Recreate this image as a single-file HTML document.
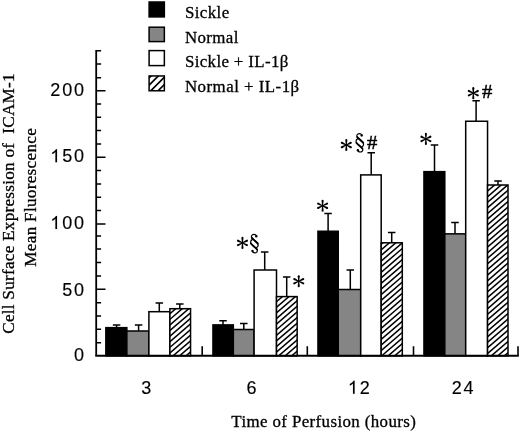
<!DOCTYPE html>
<html><head><meta charset="utf-8"><title>chart</title>
<style>
html,body{margin:0;padding:0;background:#fff;}
body{width:520px;height:431px;overflow:hidden;}
svg{display:block;will-change:transform;transform:translateZ(0);filter:blur(0.3px);}
text{fill:#000;}
.ser{font-family:"Liberation Serif",serif;font-size:16.9px;stroke:#000;stroke-width:0.3px;}
.rot{font-family:"Liberation Serif",serif;font-size:17.2px;stroke:#000;stroke-width:0.3px;}
.san{font-family:"Liberation Sans",sans-serif;font-size:18px;stroke:#000;stroke-width:0.15px;}
.sym{font-family:"Liberation Serif",serif;stroke:#000;stroke-width:0.45px;}
</style></head><body>
<svg width="520" height="431" viewBox="0 0 520 431">
<defs>
<g id="sec">
<g id="sech">
<path d="M2.0 -7.2C1.9 -8.6 0.8 -9.2 -0.4 -9.2C-2.0 -9.2 -3.1 -8.1 -3.0 -6.8C-2.9 -5.6 -1.9 -4.8 0.3 -3.0C2.3 -1.3 3.8 -0.1 3.8 1.4C3.8 2.7 3.0 3.7 1.9 4.2" fill="none" stroke="#000" stroke-width="1.2" stroke-linecap="round"/>
<path d="M-2.6 -5.7C-1.8 -4.8 -0.6 -3.8 0.3 -3.0C1.4 -2.0 2.6 -1.1 3.3 -0.2" fill="none" stroke="#000" stroke-width="1.85" stroke-linecap="round"/>
<circle cx="1.9" cy="-7.4" r="1.2" fill="#000"/>
</g>
<use href="#sech" transform="rotate(180)"/>
</g>
<g id="ast">
<path id="arm" d="M-0.42 0.2 L-1.05 -5.0 A1.05 1.05 0 0 1 1.05 -5.0 L0.42 0.2 Z" fill="#000"/>
<use href="#arm" transform="rotate(64)"/>
<use href="#arm" transform="rotate(116)"/>
<use href="#arm" transform="rotate(180)"/>
<use href="#arm" transform="rotate(244)"/>
<use href="#arm" transform="rotate(296)"/>
<circle r="1.0" fill="#000"/>
</g>
</defs>
<rect width="520" height="431" fill="#fff"/>

<rect x="149.1" y="2.0" width="15.25" height="14.90" fill="#000" stroke="#000" stroke-width="1.5"/>
<rect x="149.1" y="27.2" width="15.25" height="14.40" fill="#858585" stroke="#000" stroke-width="1.5"/>
<rect x="149.1" y="50.6" width="15.25" height="15.00" fill="#fff" stroke="#000" stroke-width="1.5"/>
<clipPath id="c1"><rect x="149.10" y="75.95" width="15.25" height="14.80"/></clipPath>
<rect x="149.10" y="75.95" width="15.25" height="14.80" fill="#fff"/>
<path clip-path="url(#c1)" d="M147.10 79.85L166.35 60.60M147.10 87.15L166.35 67.90M147.10 94.45L166.35 75.20M147.10 101.75L166.35 82.50M147.10 109.05L166.35 89.80" stroke="#000" stroke-width="1.7" fill="none"/>
<rect x="149.10" y="75.95" width="15.25" height="14.80" fill="none" stroke="#000" stroke-width="1.5"/>
<text class="ser" x="184.9" y="18.0" textLength="44.3" lengthAdjust="spacing">Sickle</text>
<text class="ser" x="184.9" y="43.25" textLength="53.5" lengthAdjust="spacing">Normal</text>
<text class="ser" x="184.9" y="66.85" textLength="103.5" lengthAdjust="spacing">Sickle + IL-1β</text>
<text class="ser" x="184.9" y="91.55" textLength="114.3" lengthAdjust="spacing">Normal + IL-1β</text>
<path d="M116.60 327.65V325.00M112.85 325.00H120.35" stroke="#000" stroke-width="1.5" fill="none"/>
<rect x="105.85" y="327.65" width="21.00" height="28.15" fill="#000" stroke="#000" stroke-width="1.5"/>
<path d="M138.60 331.00V325.00M134.85 325.00H142.35" stroke="#000" stroke-width="1.5" fill="none"/>
<rect x="126.85" y="331.00" width="22.05" height="24.80" fill="#858585" stroke="#000" stroke-width="1.5"/>
<path d="M159.30 311.70V303.00M155.55 303.00H163.05" stroke="#000" stroke-width="1.5" fill="none"/>
<rect x="148.90" y="311.70" width="21.00" height="44.10" fill="#fff" stroke="#000" stroke-width="1.5"/>
<path d="M179.80 308.70V304.00M176.05 304.00H183.55" stroke="#000" stroke-width="1.5" fill="none"/>
<clipPath id="c2"><rect x="169.90" y="308.70" width="20.65" height="47.10"/></clipPath>
<rect x="169.90" y="308.70" width="20.65" height="47.10" fill="#fff"/>
<path clip-path="url(#c2)" d="M167.90 309.87L192.55 288.67M167.90 315.47L192.55 294.27M167.90 321.07L192.55 299.87M167.90 326.67L192.55 305.47M167.90 332.27L192.55 311.07M167.90 337.87L192.55 316.67M167.90 343.47L192.55 322.27M167.90 349.07L192.55 327.87M167.90 354.67L192.55 333.47M167.90 360.27L192.55 339.07M167.90 365.87L192.55 344.67M167.90 371.47L192.55 350.27M167.90 377.07L192.55 355.87" stroke="#000" stroke-width="1.5" fill="none"/>
<rect x="169.90" y="308.70" width="20.65" height="47.10" fill="none" stroke="#000" stroke-width="1.5"/>
<path d="M223.00 324.90V320.70M219.25 320.70H226.75" stroke="#000" stroke-width="1.5" fill="none"/>
<rect x="212.95" y="324.90" width="20.40" height="30.90" fill="#000" stroke="#000" stroke-width="1.5"/>
<path d="M243.80 329.50V323.60M240.05 323.60H247.55" stroke="#000" stroke-width="1.5" fill="none"/>
<rect x="233.35" y="329.50" width="20.75" height="26.30" fill="#858585" stroke="#000" stroke-width="1.5"/>
<path d="M264.70 270.00V252.00M260.95 252.00H268.45" stroke="#000" stroke-width="1.5" fill="none"/>
<rect x="254.10" y="270.00" width="22.40" height="85.80" fill="#fff" stroke="#000" stroke-width="1.5"/>
<path d="M286.70 296.60V277.10M282.95 277.10H290.45" stroke="#000" stroke-width="1.5" fill="none"/>
<clipPath id="c3"><rect x="276.50" y="296.60" width="20.65" height="59.20"/></clipPath>
<rect x="276.50" y="296.60" width="20.65" height="59.20" fill="#fff"/>
<path clip-path="url(#c3)" d="M274.50 297.82L299.15 276.62M274.50 303.42L299.15 282.22M274.50 309.02L299.15 287.82M274.50 314.62L299.15 293.42M274.50 320.22L299.15 299.02M274.50 325.82L299.15 304.62M274.50 331.42L299.15 310.22M274.50 337.02L299.15 315.82M274.50 342.62L299.15 321.42M274.50 348.22L299.15 327.02M274.50 353.82L299.15 332.62M274.50 359.42L299.15 338.22M274.50 365.02L299.15 343.82M274.50 370.62L299.15 349.42M274.50 376.22L299.15 355.02" stroke="#000" stroke-width="1.5" fill="none"/>
<rect x="276.50" y="296.60" width="20.65" height="59.20" fill="none" stroke="#000" stroke-width="1.5"/>
<path d="M328.10 231.25V213.55M324.35 213.55H331.85" stroke="#000" stroke-width="1.5" fill="none"/>
<rect x="317.95" y="231.25" width="20.30" height="124.55" fill="#000" stroke="#000" stroke-width="1.5"/>
<path d="M350.30 289.50V269.90M346.55 269.90H354.05" stroke="#000" stroke-width="1.5" fill="none"/>
<rect x="338.25" y="289.50" width="22.45" height="66.30" fill="#858585" stroke="#000" stroke-width="1.5"/>
<path d="M371.20 174.90V152.70M367.45 152.70H374.95" stroke="#000" stroke-width="1.5" fill="none"/>
<rect x="360.70" y="174.90" width="20.50" height="180.90" fill="#fff" stroke="#000" stroke-width="1.5"/>
<path d="M391.70 242.80V232.50M387.95 232.50H395.45" stroke="#000" stroke-width="1.5" fill="none"/>
<clipPath id="c4"><rect x="381.20" y="242.80" width="21.10" height="113.00"/></clipPath>
<rect x="381.20" y="242.80" width="21.10" height="113.00" fill="#fff"/>
<path clip-path="url(#c4)" d="M379.20 245.94L404.30 224.35M379.20 251.54L404.30 229.95M379.20 257.14L404.30 235.55M379.20 262.74L404.30 241.15M379.20 268.34L404.30 246.75M379.20 273.94L404.30 252.35M379.20 279.54L404.30 257.95M379.20 285.14L404.30 263.55M379.20 290.74L404.30 269.15M379.20 296.34L404.30 274.75M379.20 301.94L404.30 280.35M379.20 307.54L404.30 285.95M379.20 313.14L404.30 291.55M379.20 318.74L404.30 297.15M379.20 324.34L404.30 302.75M379.20 329.94L404.30 308.35M379.20 335.54L404.30 313.95M379.20 341.14L404.30 319.55M379.20 346.74L404.30 325.15M379.20 352.34L404.30 330.75M379.20 357.94L404.30 336.35M379.20 363.54L404.30 341.95M379.20 369.14L404.30 347.55M379.20 374.74L404.30 353.15" stroke="#000" stroke-width="1.5" fill="none"/>
<rect x="381.20" y="242.80" width="21.10" height="113.00" fill="none" stroke="#000" stroke-width="1.5"/>
<path d="M434.50 171.65V145.10M430.75 145.10H438.25" stroke="#000" stroke-width="1.5" fill="none"/>
<rect x="423.95" y="171.65" width="20.85" height="184.15" fill="#000" stroke="#000" stroke-width="1.5"/>
<path d="M455.00 233.85V222.45M451.25 222.45H458.75" stroke="#000" stroke-width="1.5" fill="none"/>
<rect x="444.80" y="233.85" width="20.90" height="121.95" fill="#858585" stroke="#000" stroke-width="1.5"/>
<path d="M476.10 121.25V100.80M472.35 100.80H479.85" stroke="#000" stroke-width="1.5" fill="none"/>
<rect x="465.70" y="121.25" width="21.85" height="234.55" fill="#fff" stroke="#000" stroke-width="1.5"/>
<path d="M498.00 185.00V181.10M494.25 181.10H501.75" stroke="#000" stroke-width="1.5" fill="none"/>
<clipPath id="c5"><rect x="487.55" y="185.00" width="20.45" height="170.80"/></clipPath>
<rect x="487.55" y="185.00" width="20.45" height="170.80" fill="#fff"/>
<path clip-path="url(#c5)" d="M485.55 187.19L510.00 166.17M485.55 192.79L510.00 171.77M485.55 198.39L510.00 177.37M485.55 203.99L510.00 182.97M485.55 209.59L510.00 188.57M485.55 215.19L510.00 194.17M485.55 220.79L510.00 199.77M485.55 226.39L510.00 205.37M485.55 231.99L510.00 210.97M485.55 237.59L510.00 216.57M485.55 243.19L510.00 222.17M485.55 248.79L510.00 227.77M485.55 254.39L510.00 233.37M485.55 259.99L510.00 238.97M485.55 265.59L510.00 244.57M485.55 271.19L510.00 250.17M485.55 276.79L510.00 255.77M485.55 282.39L510.00 261.37M485.55 287.99L510.00 266.97M485.55 293.59L510.00 272.57M485.55 299.19L510.00 278.17M485.55 304.79L510.00 283.77M485.55 310.39L510.00 289.37M485.55 315.99L510.00 294.97M485.55 321.59L510.00 300.57M485.55 327.19L510.00 306.17M485.55 332.79L510.00 311.77M485.55 338.39L510.00 317.37M485.55 343.99L510.00 322.97M485.55 349.59L510.00 328.57M485.55 355.19L510.00 334.17M485.55 360.79L510.00 339.77M485.55 366.39L510.00 345.37M485.55 371.99L510.00 350.97M485.55 377.59L510.00 356.57" stroke="#000" stroke-width="1.5" fill="none"/>
<rect x="487.55" y="185.00" width="20.45" height="170.80" fill="none" stroke="#000" stroke-width="1.5"/>
<path d="M96.2 49.9V355.8" stroke="#000" stroke-width="1.8" fill="none"/>
<path d="M95.3 355.8H518.8" stroke="#000" stroke-width="1.9" fill="none"/>
<path d="M96.2 50.65H101.1M96.2 64.00H101.1M96.2 77.70H101.1M96.2 90.70H105.5M96.2 103.95H101.1M96.2 117.30H101.1M96.2 130.55H101.1M96.2 143.90H101.1M96.2 157.30H105.5M96.2 170.55H101.1M96.2 184.00H101.1M96.2 197.30H101.1M96.2 210.55H101.1M96.2 224.00H105.5M96.2 235.90H101.1M96.2 249.00H101.1M96.2 262.60H101.1M96.2 275.90H101.1M96.2 289.25H105.5M96.2 302.65H101.1M96.2 315.90H101.1M96.2 329.30H101.1M96.2 342.75H101.1" stroke="#000" stroke-width="1.5" fill="none"/>
<path d="M202.2 355.8V346.3M307.3 355.8V346.3M413.5 355.8V346.3M518.0 355.8V346.3" stroke="#000" stroke-width="1.6" fill="none"/>
<text class="san" x="50.30" y="95.75">2</text><text class="san" x="62.21" y="95.75">0</text><text class="san" x="74.12" y="95.75">0</text>
<path d="M763 0H583V-1147Q518 -1085 412.5 -1023Q307 -961 223 -930V-1104Q374 -1175 487 -1276Q600 -1377 647 -1472H763Z" transform="translate(50.30 162.15) scale(0.008789)" fill="#000" stroke="#000" stroke-width="17.1"/><text class="san" x="62.21" y="162.15">5</text><text class="san" x="74.12" y="162.15">0</text>
<path d="M763 0H583V-1147Q518 -1085 412.5 -1023Q307 -961 223 -930V-1104Q374 -1175 487 -1276Q600 -1377 647 -1472H763Z" transform="translate(50.30 228.9) scale(0.008789)" fill="#000" stroke="#000" stroke-width="17.1"/><text class="san" x="62.21" y="228.9">0</text><text class="san" x="74.12" y="228.9">0</text>
<text class="san" x="62.20" y="295.75">5</text><text class="san" x="74.11" y="295.75">0</text>
<text class="san" x="74.10" y="361.0">0</text>
<text class="san" x="141.20" y="393.7">3</text>
<text class="san" x="246.50" y="393.7">6</text>
<path d="M763 0H583V-1147Q518 -1085 412.5 -1023Q307 -961 223 -930V-1104Q374 -1175 487 -1276Q600 -1377 647 -1472H763Z" transform="translate(347.90 393.7) scale(0.008789)" fill="#000" stroke="#000" stroke-width="17.1"/><text class="san" x="359.81" y="393.7">2</text>
<text class="san" x="451.70" y="393.7">2</text><text class="san" x="463.61" y="393.7">4</text>
<text class="ser" x="231.3" y="427.3" textLength="184.5" lengthAdjust="spacing">Time of Perfusion (hours)</text>
<text class="rot" transform="translate(13.5 333.8) rotate(-90)" xml:space="preserve" textLength="260.5" lengthAdjust="spacing">Cell Surface Expression of  ICAM-1</text>
<text class="rot" transform="translate(35.7 266.7) rotate(-90)" textLength="138.5" lengthAdjust="spacing">Mean Fluorescence</text>
<use href="#ast" transform="translate(242.45 242.9)"/>
<use href="#ast" transform="translate(298.75 281.2)"/>
<use href="#ast" transform="translate(322.6 205.8)"/>
<use href="#ast" transform="translate(346.3 145.0)"/>
<use href="#ast" transform="translate(425.9 138.9)"/>
<use href="#ast" transform="translate(473.3 93.15)"/>
<use href="#sec" transform="translate(254.4 243.6)"/>
<use href="#sec" transform="translate(359.8 142.8)"/>
<text class="sym" font-size="19.3" transform="translate(366.9 149.1) scale(1.07 1)">#</text>
<text class="sym" font-size="19.3" transform="translate(482.0 97.7) scale(1.07 1)">#</text>
</svg></body></html>
